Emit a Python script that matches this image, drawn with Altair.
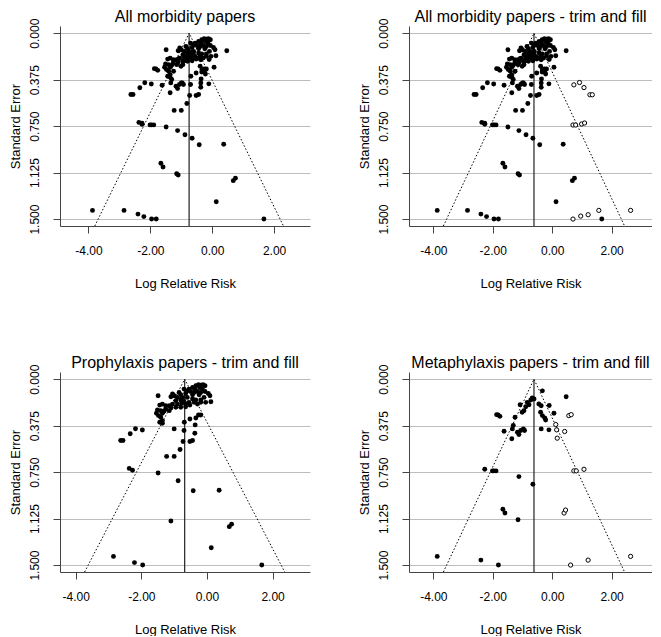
import altair as alt
import pandas as pd

# ---- data (log relative risk, standard error) ----
PRO_LRR = [-0.34, -0.26, -0.19, -0.12, -0.06, -0.22, -0.44, -0.55, -0.36, -0.14, -0.60, -0.70,
           -0.85, -1.05, -1.00, -0.80, -0.65, -0.50, -0.39, -0.29, -0.19, -0.06, 0.04, 0.09, -0.24, -0.44,
           -1.10, -0.90, -0.75, -0.60, -0.44, -0.34, -0.19, -0.09, -0.95, -0.80, -0.70, -0.55, -0.39,
           -1.44, -1.36, -1.26, -1.15, -1.05, -0.90, -0.77, -0.65, -0.52, -0.29, -0.19, -0.04, 0.12,
           -1.26, -1.10, -0.95, -0.80, -0.65,
           -1.51, -1.41, -1.31, -1.15, -1.54, -1.36,
           -1.48, -1.41, -1.36, -1.44, -1.36, -0.26, -0.19, -0.34, -0.52, -0.69, -0.36,
           -1.00, -0.70, -0.37, -0.44, -0.52, -0.73, -0.82, -1.00, -1.23,
           -1.49,
           -1.97, -2.18, -2.34, -2.56, -2.63,
           -2.37, -2.27, -1.49, -0.88, -0.42, 0.37, -1.10, 0.68, 0.75, 0.13, -2.85, -2.21, -1.96, 1.67]
PRO_SE = [0.053, 0.045, 0.048, 0.045, 0.053, 0.067, 0.067, 0.080, 0.080, 0.080, 0.094, 0.080,
          0.107, 0.120, 0.134, 0.126, 0.115, 0.099, 0.107, 0.099, 0.107, 0.099, 0.115, 0.134, 0.126, 0.126,
          0.142, 0.147, 0.147, 0.147, 0.160, 0.168, 0.168, 0.147, 0.174, 0.168, 0.179, 0.187, 0.187,
          0.209, 0.201, 0.214, 0.214, 0.201, 0.201, 0.195, 0.201, 0.209, 0.201, 0.187, 0.187, 0.182,
          0.241, 0.233, 0.227, 0.227, 0.222,
          0.249, 0.254, 0.259, 0.254, 0.275, 0.275,
          0.294, 0.307, 0.334, 0.348, 0.356, 0.289, 0.289, 0.313, 0.321, 0.348, 0.369,
          0.401, 0.414, 0.436, 0.495, 0.503, 0.503, 0.567, 0.623, 0.623,
          0.134,
          0.41, 0.40, 0.44, 0.495, 0.495,
          0.72, 0.735, 0.757, 0.82, 0.90, 0.896, 1.144, 1.19, 1.17, 1.36, 1.43, 1.48, 1.50, 1.50]

META_LRR = [-0.33, 0.47, -0.67, -0.72, -0.61, -0.84, -0.78, -0.89, -1.08, -0.95, -1.01, -0.45,
            -0.37, -0.10, 0.06, -0.39, -0.33, -0.25, -0.22, -1.87, -1.82, -1.76, -1.25, -1.31,
            -1.34, -1.62, -1.17, -1.06, -0.97, -0.93, -1.12, -1.36, -0.37, -0.11, -2.27, -2.01,
            -1.96, -1.89, -1.12, -0.65, -1.66, -1.59, -1.15, -3.87, -2.40, -1.81]
META_SE = [0.094, 0.142, 0.152, 0.168, 0.160, 0.187, 0.206, 0.222, 0.206, 0.254, 0.267, 0.200,
           0.214, 0.212, 0.275, 0.267, 0.294, 0.313, 0.329, 0.286, 0.289, 0.300, 0.307, 0.374,
           0.401, 0.420, 0.428, 0.414, 0.401, 0.414, 0.447, 0.481, 0.401, 0.409, 0.727, 0.740,
           0.740, 0.740, 0.786, 0.848, 1.050, 1.080, 1.134, 1.430, 1.460, 1.500]

# imputed (trim and fill) studies
ALL_FILL_LRR = [0.73, 0.92, 1.07, 1.27, 1.35, 0.70, 0.79, 0.99, 1.09, 0.70, 0.96, 1.21, 1.57, 2.64]
ALL_FILL_SE = [0.417, 0.398, 0.439, 0.497, 0.497, 0.741, 0.741, 0.733, 0.725, 1.50, 1.476, 1.465, 1.43, 1.43]
META_FILL_LRR = [0.56, 0.64, 0.12, 0.15, 0.42, 0.17, 0.73, 0.81, 1.07, 0.40, 0.45, 0.62, 1.21, 2.64]
META_FILL_SE = [0.294, 0.286, 0.366, 0.409, 0.422, 0.476, 0.74, 0.74, 0.727, 1.08, 1.056, 1.50, 1.46, 1.43]

TITLES = ["All morbidity papers", "All morbidity papers - trim and fill",
          "Prophylaxis papers - trim and fill", "Metaphylaxis papers - trim and fill"]
ESTIMATES = [-0.747, -0.613, -0.68, -0.613]
SE_TICKS = [0.0, 0.375, 0.75, 1.125, 1.5]
LRR_TICKS = [-4, -3, -2, -1, 0, 1, 2, 3]

FONT = "Liberation Sans"
Y_DOM = [-0.058, 1.556]
H = 200


def panel(title, fx, fy, ox, oy, est, xdom, width):
    xs = alt.Scale(domain=xdom, nice=False, zero=False)
    ys = alt.Scale(domain=Y_DOM, nice=False, zero=False, reverse=True)
    xax = alt.Axis(values=LRR_TICKS, title="Log Relative Risk", grid=False,
                   labelExpr="datum.value % 2 == 0 ? replace(format(datum.value, '.2f'), '\u2212', '-') : ''",
                   labelPadding=12, titlePadding=21, tickSize=7)
    yax = alt.Axis(values=SE_TICKS, format=".3f", title="Standard Error", grid=True,
                   labelAngle=270, labelAlign="center", labelBaseline="bottom",
                   labelPadding=12, titlePadding=6, tickSize=7)

    pts = pd.DataFrame({"lrr": fx, "se": fy})
    base_pts = alt.Chart(pts).mark_point(filled=True, size=24, color="black", opacity=1).encode(
        x=alt.X("lrr:Q", scale=xs, axis=xax),
        y=alt.Y("se:Q", scale=ys, axis=yax),
    )
    ymax = Y_DOM[1]
    half = 1.96 * ymax
    fun = pd.DataFrame({"lrr": [est - half, est, est + half], "se": [ymax, 0.0, ymax], "o": [0, 1, 2]})
    funnel = alt.Chart(fun).mark_line(color="black", strokeWidth=1, strokeDash=[1.5, 2]).encode(
        x=alt.X("lrr:Q", scale=xs), y=alt.Y("se:Q", scale=ys), order="o:Q")
    vdf = pd.DataFrame({"lrr": [est], "se": [0.0], "se2": [ymax]})
    vline = alt.Chart(vdf).mark_rule(color="#222222", strokeWidth=1.2).encode(
        x=alt.X("lrr:Q", scale=xs), y=alt.Y("se:Q", scale=ys), y2="se2:Q")
    tdf = pd.DataFrame({"t": [title]})
    ttl = alt.Chart(tdf).mark_text(font=FONT, fontSize=16, color="black", align="center",
                                   baseline="alphabetic").encode(
        text="t:N", x=alt.value(width / 2), y=alt.value(-4.5))
    layers = [funnel, vline, base_pts]
    if ox:
        odf = pd.DataFrame({"lrr": ox, "se": oy})
        layers.append(alt.Chart(odf).mark_point(shape="circle", size=18, filled=False, fill="white",
                                                stroke="black", strokeWidth=1, opacity=1).encode(
            x=alt.X("lrr:Q", scale=xs), y=alt.Y("se:Q", scale=ys)))
    layers.append(ttl)
    return alt.layer(*layers).properties(width=width, height=H)


all_x = PRO_LRR + META_LRR
all_y = PRO_SE + META_SE

p1 = panel(TITLES[0], all_x, all_y, [], [], ESTIMATES[0], [-4.92, 3.16], 250)
p2 = panel(TITLES[1], all_x, all_y, ALL_FILL_LRR, ALL_FILL_SE, ESTIMATES[1], [-4.82, 3.36], 243)
p3 = panel(TITLES[2], PRO_LRR, PRO_SE, [], [], ESTIMATES[2], [-4.48, 3.14], 250)
p4 = panel(TITLES[3], META_LRR, META_SE, META_FILL_LRR, META_FILL_SE, ESTIMATES[3], [-4.82, 3.36], 243)

chart = alt.vconcat(
    alt.hconcat(p1, p2, spacing=47),
    alt.hconcat(p3, p4, spacing=47),
    spacing=64,
).properties(padding=0).configure_view(stroke=None).configure_axis(
    labelFont=FONT, titleFont=FONT, labelFontSize=12, titleFontSize=13,
    labelColor="black", titleColor="black", titleFontWeight="normal",
    domainColor="#444444", tickColor="#444444", gridColor="#bdbdbd", gridWidth=1,
)

chart.save("out.html", embed_options={"renderer": "svg", "actions": False})
